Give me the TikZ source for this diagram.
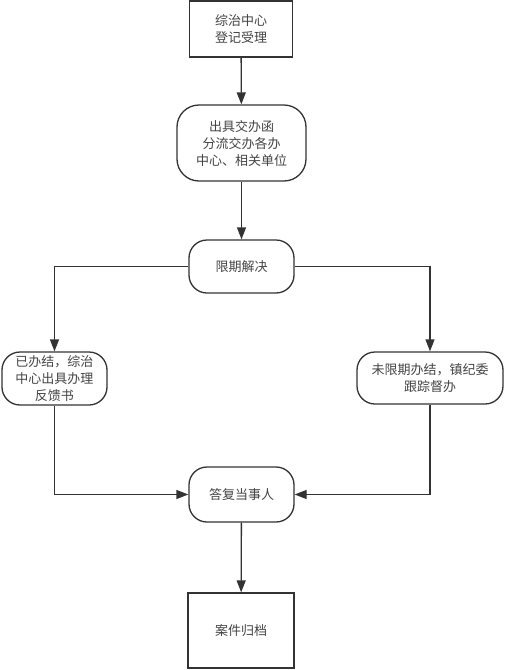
\documentclass[tikz,border=0pt]{standalone}
\usepackage{fontspec}
\setmainfont{Noto Sans CJK SC}
\usepackage{tikz}
\usetikzlibrary{arrows.meta,positioning,calc}
\definecolor{linegray}{HTML}{333333}
\definecolor{textgray}{HTML}{444444}

\begin{document}
\begin{tikzpicture}[x=1pt, y=-1pt,
        every node/.style={font=\fontsize{13}{17}\selectfont, text=textgray, align=center},
        box/.style={draw=linegray, line width=1.3pt, fill=white, inner sep=0pt},
        pill/.style={draw=linegray, line width=1.3pt, fill=white, rounded corners=18pt, inner sep=0pt},
        flow/.style={draw=linegray, line width=1.3pt, -{Triangle[length=12pt,width=9pt]}},
        link/.style={draw=linegray, line width=1.3pt}]
        \useasboundingbox (0,0) rectangle (504,670);

        \node[box, minimum width=103pt, minimum height=56pt] (reg) at (241,29) {综治中心\\登记受理};
        \node[pill, minimum width=129pt, minimum height=76pt, rounded corners=22pt] (fwd) at (241.5,143) {出具交办函\\分流交办各办\\中心、相关单位};
        \node[pill, minimum width=105pt, minimum height=53pt] (lim) at (241.5,266.5) {限期解决};
        \node[pill, minimum width=105pt, minimum height=53pt] (done) at (54.5,378.5) {已办结，综治\\中心出具办理\\反馈书};
        \node[pill, minimum width=146pt, minimum height=52pt] (open) at (430,378) {未限期办结，镇纪委\\跟踪督办};
        \node[pill, minimum width=105pt, minimum height=55pt] (reply) at (241.5,494.5) {答复当事人};
        \node[box, minimum width=106pt, minimum height=75pt] (arch) at (241,630.5) {案件归档};

        \draw[flow] (reg) -- (fwd);
        \draw[flow] (fwd) -- (lim);
        \draw[flow] (lim.west) -| (done.north);
        \draw[flow] (lim.east) -| (open.north);
        \draw[flow] (done.south) |- (reply.west);
        \draw[flow] (open.south) |- (reply.east);
        \draw[flow] (reply) -- (arch);
    \end{tikzpicture}
\end{document}
